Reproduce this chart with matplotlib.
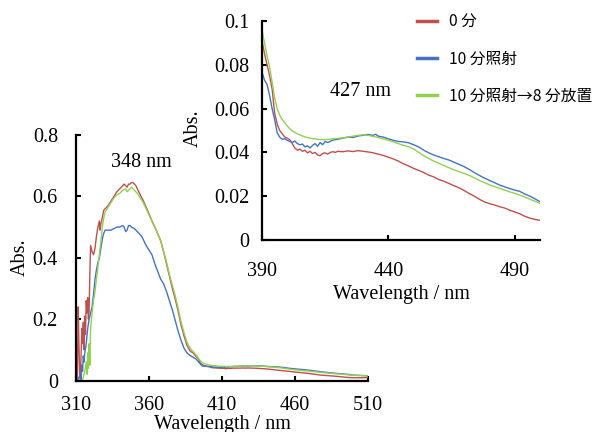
import matplotlib
matplotlib.use("Agg")
import matplotlib.pyplot as plt
from matplotlib.lines import Line2D
import numpy as np

# ---------------- data ----------------
labels = ["0 分", "10 分照射", "10 分照射→8 分放置"]
colors = ["#C0504D", "#4472C4", "#92D050"]

# UV region (main chart only)
red_uv_wl = [310, 310.5, 311, 311.5, 312, 312.5, 313, 313.5, 314, 314.5, 315, 315.5, 316, 316.5,
             317, 317.5, 318, 318.5, 319, 319.5, 320, 321, 322, 323, 324, 325, 326, 326.5, 327,
             328, 329, 330, 332, 334, 336, 338, 340, 342, 343, 344, 345, 346, 347, 348, 349, 350,
             351, 352, 354, 356, 358, 360, 362, 364, 366, 368, 370, 372, 374, 376, 378, 380, 382,
             384, 386, 388, 389]
red_uv = [0.15, 0.0, 0.02, 0.24, 0.12, 0.03, 0.0, 0.08, 0.17, 0.12, 0.19, 0.10, 0.21, 0.15,
          0.26, 0.22, 0.27, 0.20, 0.23, 0.35, 0.44, 0.42, 0.41, 0.43, 0.47, 0.50, 0.52, 0.49, 0.51,
          0.53, 0.555, 0.56, 0.57, 0.585, 0.60, 0.615, 0.625, 0.635, 0.64, 0.635, 0.63, 0.64, 0.64,
          0.645, 0.645, 0.64, 0.635, 0.625, 0.605, 0.587, 0.565, 0.543, 0.52, 0.50, 0.478, 0.455,
          0.42, 0.38, 0.34, 0.30, 0.265, 0.225, 0.18, 0.145, 0.115, 0.097, 0.093]

blue_uv_wl = [310, 311, 312, 313, 313.5, 314, 314.5, 315, 315.5, 316, 317, 318, 319, 320, 321,
              322, 323, 324, 325, 326, 327, 328, 329, 330, 332, 334, 336, 338, 340, 342, 343, 344,
              345, 346, 347, 348, 350, 352, 354, 355, 356, 358, 360, 362, 364, 366, 368, 370, 372,
              374, 376, 378, 380, 382, 384, 386, 388, 389]
blue_uv = [0.0, 0.0, 0.01, 0.02, 0.0, 0.05, 0.03, 0.08, 0.06, 0.09, 0.12, 0.17, 0.20, 0.22, 0.24,
           0.28, 0.33, 0.36, 0.385, 0.40, 0.43, 0.46, 0.48, 0.49, 0.49, 0.49, 0.495, 0.50, 0.50,
           0.505, 0.50, 0.485, 0.49, 0.505, 0.505, 0.50, 0.495, 0.485, 0.475, 0.47, 0.46, 0.44,
           0.425, 0.41, 0.38, 0.355, 0.33, 0.315, 0.29, 0.26, 0.23, 0.195, 0.16, 0.13, 0.105,
           0.09, 0.082, 0.079]

green_uv_wl = [314, 315, 316, 317, 317.5, 318, 318.5, 319, 319.5, 320, 321, 322, 323, 324, 325,
               326, 327, 328, 329, 330, 332, 334, 336, 338, 340, 342, 344, 345, 346, 348, 349, 350,
               352, 354, 356, 358, 360, 362, 364, 366, 368, 370, 372, 374, 376, 378, 380, 382, 384,
               386, 388, 389]
green_uv = [0.0, 0.01, 0.03, 0.06, 0.02, 0.09, 0.04, 0.12, 0.05, 0.17, 0.22, 0.26, 0.29, 0.33,
            0.37, 0.41, 0.45, 0.50, 0.53, 0.55, 0.565, 0.58, 0.595, 0.605, 0.61, 0.62, 0.625,
            0.615, 0.62, 0.63, 0.625, 0.62, 0.61, 0.595, 0.58, 0.56, 0.54, 0.52, 0.50, 0.478,
            0.455, 0.42, 0.385, 0.345, 0.31, 0.275, 0.235, 0.19, 0.155, 0.125, 0.107, 0.100]

# visible region (shared by main chart and inset)
red_vis_wl = [390, 391, 392, 393, 394, 395, 396, 397, 398, 399, 400, 401, 402, 403, 404, 405, 406,
              407, 408, 409, 410, 411, 412, 413, 414, 415, 416, 417, 418, 419, 420, 422, 424, 426,
              428, 430, 432, 434, 436, 438, 440, 442, 444, 446, 448, 450, 452, 454, 456, 458, 460,
              462, 464, 466, 468, 470, 472, 474, 476, 478, 480, 482, 484, 486, 488, 490, 492, 494,
              496, 498, 500, 505, 510]
red_vis = [0.091, 0.085, 0.080, 0.075, 0.069, 0.058, 0.053, 0.050, 0.0485, 0.047, 0.0465, 0.0458,
           0.044, 0.042, 0.041, 0.0415, 0.0405, 0.041, 0.0398, 0.0405, 0.0395, 0.0400, 0.0388,
           0.0385, 0.0395, 0.0398, 0.0392, 0.0400, 0.0403, 0.0400, 0.0405, 0.0403, 0.0407, 0.0404,
           0.0408, 0.0405, 0.0402, 0.0398, 0.0392, 0.0386, 0.0378, 0.0370, 0.0360, 0.0348, 0.0338,
           0.0327, 0.0318, 0.0308, 0.0296, 0.0288, 0.0276, 0.0268, 0.0258, 0.0248, 0.0238, 0.0226,
           0.0212, 0.0200, 0.0186, 0.0174, 0.0166, 0.0160, 0.0152, 0.0146, 0.0136, 0.0128, 0.0120,
           0.0108, 0.0100, 0.0094, 0.0090, 0.0090, 0.0095]

blue_vis_wl = [390, 391, 392, 393, 394, 395, 396, 397, 398, 399, 400, 401, 402, 403, 404, 405, 406,
               407, 408, 409, 410, 411, 412, 413, 414, 415, 416, 418, 420, 422, 424, 426, 428, 430,
               432, 434, 435, 436, 438, 440, 442, 444, 446, 448, 450, 452, 454, 456, 458, 460, 462,
               464, 466, 468, 470, 472, 474, 476, 478, 480, 482, 484, 486, 488, 490, 492, 494, 496,
               498, 500, 505, 510]
blue_vis = [0.0767, 0.073, 0.071, 0.066, 0.060, 0.055, 0.049, 0.047, 0.046, 0.0462, 0.0455,
            0.0450, 0.0445, 0.0452, 0.0440, 0.0435, 0.0438, 0.0425, 0.0430, 0.0420, 0.0432,
            0.0440, 0.0428, 0.0445, 0.0435, 0.0450, 0.0445, 0.0456, 0.0460, 0.0465, 0.0470,
            0.0468, 0.0475, 0.0478, 0.0482, 0.0478, 0.0483, 0.0474, 0.0470, 0.0462, 0.0455,
            0.0450, 0.0448, 0.0444, 0.0435, 0.0425, 0.0410, 0.0398, 0.0388, 0.0380, 0.0372,
            0.0365, 0.0355, 0.0345, 0.0335, 0.0322, 0.0308, 0.0295, 0.0283, 0.0272, 0.0262,
            0.0251, 0.0243, 0.0235, 0.0228, 0.0222, 0.0210, 0.0200, 0.0188, 0.0175, 0.0165, 0.0155]

green_vis_wl = [390, 391, 392, 393, 394, 395, 396, 397, 398, 399, 400, 401, 402, 403, 404, 405,
                406, 407, 408, 410, 412, 414, 416, 418, 420, 422, 424, 426, 428, 430, 432, 434, 436,
                438, 440, 442, 444, 446, 448, 450, 452, 454, 456, 458, 460, 462, 464, 466, 468, 470,
                472, 474, 476, 478, 480, 482, 484, 486, 488, 490, 492, 494, 496, 498, 500, 505, 510]
green_vis = [0.0957, 0.090, 0.084, 0.079, 0.072, 0.065, 0.060, 0.057, 0.055, 0.0535, 0.052,
             0.0508, 0.0498, 0.0492, 0.0485, 0.048, 0.0475, 0.0471, 0.0468, 0.0463, 0.046,
             0.0458, 0.0459, 0.0462, 0.0464, 0.0466, 0.0470, 0.0474, 0.0478, 0.0480, 0.0478,
             0.0473, 0.0468, 0.0462, 0.0455, 0.0448, 0.0440, 0.0432, 0.0426, 0.0415, 0.0400,
             0.0385, 0.0372, 0.0360, 0.0350, 0.0340, 0.0330, 0.0320, 0.0312, 0.0304, 0.0295,
             0.0284, 0.0272, 0.0262, 0.0252, 0.0244, 0.0236, 0.0228, 0.0220, 0.0213, 0.0205,
             0.0196, 0.0186, 0.0177, 0.0167, 0.0158, 0.0150]

main_xticks = [310, 360, 410, 460, 510]
main_yticks = [0, 0.2, 0.4, 0.6, 0.8]
main_yticklabels = ["0", "0.2", "0.4", "0.6", "0.8"]
inset_xticks = [390, 440, 490]
inset_yticks = [0, 0.02, 0.04, 0.06, 0.08, 0.1]
inset_yticklabels = ["0", "0.02", "0.04", "0.06", "0.08", "0.1"]

# ---------------- figure ----------------
W, H = 596, 432
fig = plt.figure(figsize=(W / 100, H / 100), dpi=100)
serif = "Liberation Serif"
cjk = ["Noto Sans CJK JP", "DejaVu Sans"]
FS = 14.5


def px_box(l, t, r, b):
    return [l / W, 1 - b / H, (r - l) / W, (b - t) / H]


def style(ax, xpad, ypad):
    for s in ["top", "right"]:
        ax.spines[s].set_visible(False)
    for s in ["left", "bottom"]:
        ax.spines[s].set_linewidth(1.6)
        ax.spines[s].set_color("black")
    ax.tick_params(direction="in", length=3.5, width=1.5, labelsize=FS)
    ax.tick_params(axis="x", pad=xpad)
    ax.tick_params(axis="y", pad=ypad)
    for lab in ax.get_xticklabels() + ax.get_yticklabels():
        lab.set_fontfamily(serif)


ax = fig.add_axes(px_box(76, 135, 368, 380.5))
series_full = [
    (red_uv_wl + red_vis_wl, red_uv + red_vis),
    (blue_uv_wl + blue_vis_wl, blue_uv + blue_vis),
    (green_uv_wl + green_vis_wl, green_uv + green_vis),
]
for (wl, ab), c in zip(series_full, colors):
    ax.plot(wl, ab, color=c, lw=1.0)
ax.set_xlim(310, 510)
ax.set_ylim(0, 0.8)
ax.set_xticks(main_xticks)
ax.set_xticklabels([str(v) for v in main_xticks])
ax.set_yticks(main_yticks)
ax.set_yticklabels(main_yticklabels)
style(ax, 11, 13)

ins = fig.add_axes(px_box(262, 21, 540, 240))
ins.set_facecolor("none")
series_vis = [(red_vis_wl, red_vis), (blue_vis_wl, blue_vis), (green_vis_wl, green_vis)]
for (wl, ab), c in zip(series_vis, colors):
    ins.plot(wl, ab, color=c, lw=1.0)
ins.set_xlim(390, 500)
ins.set_ylim(0, 0.1)
ins.set_xticks(inset_xticks)
ins.set_xticklabels([str(v) for v in inset_xticks])
ins.set_yticks(inset_yticks)
ins.set_yticklabels(inset_yticklabels)
style(ins, 15.5, 9)


def ftext(x, y, s, **kw):
    kw.setdefault("fontfamily", serif)
    kw.setdefault("fontsize", FS)
    fig.text(x / W, 1 - y / H, s, **kw)


ftext(20, 257, "Abs.", rotation=90, ha="center", va="center")
ftext(193, 128, "Abs.", rotation=90, ha="center", va="center")
ftext(222, 415, "Wavelength / nm", ha="center", va="top")
ftext(401, 285, "Wavelength / nm", ha="center", va="top")
ftext(141, 166.5, "348 nm", ha="center", va="baseline")
ftext(360, 96.5, "427 nm", ha="center", va="baseline")

handles = [Line2D([], [], color=c, lw=2.5) for c in colors]
fig.legend(handles, labels, loc="upper left", bbox_to_anchor=(417 / W, 1 - 13 / H),
           frameon=False, borderpad=0, borderaxespad=0, handlelength=1.25,
           handletextpad=0.8, labelspacing=1.3,
           prop={"family": cjk, "size": 11.3})

fig.savefig("out.png", dpi=100)
